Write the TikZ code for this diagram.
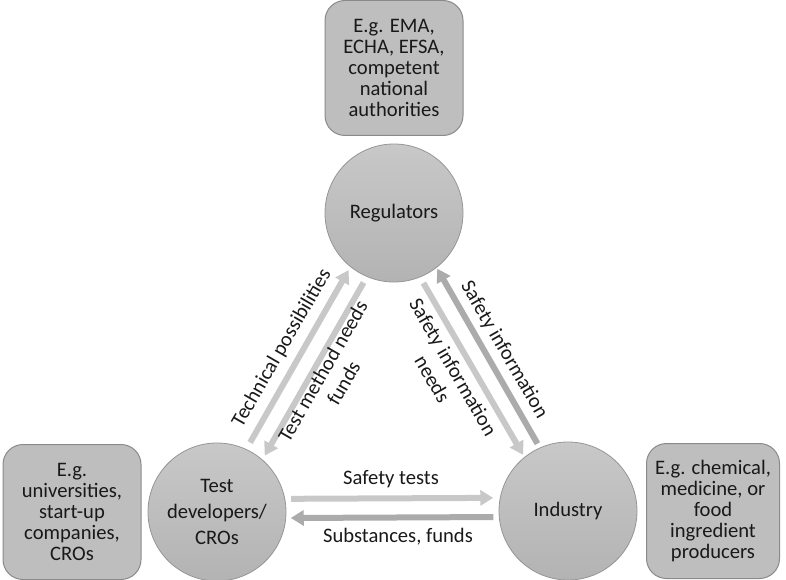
\documentclass[tikz,border=0pt]{standalone}
\usepackage{fontspec}
\setmainfont{Carlito}
\usepackage{tikz}
\usetikzlibrary{arrows.meta,positioning}
\definecolor{circtop}{HTML}{C8C8C8}
\definecolor{circbot}{HTML}{B3B3B3}
\definecolor{circline}{HTML}{959595}
\definecolor{boxgray}{HTML}{BEBEBE}
\definecolor{boxline}{HTML}{8A8A8A}
\definecolor{lite}{HTML}{C8C8C8}
\definecolor{dark}{HTML}{ABABAB}

\begin{document}
\begin{tikzpicture}[x=1pt,y=-1pt,node distance=145pt,
font=\fontsize{20.6}{21}\selectfont,text=black!90]
\tikzstyle{actor}=[circle,minimum size=138pt,inner sep=0pt,outer sep=0pt,
  top color=circtop,bottom color=circbot,draw=circline,line width=0.8pt,
  align=center,font=\fontsize{20.6}{26}\selectfont]
\tikzstyle{examples}=[rectangle,rounded corners=20pt,minimum width=138pt,
  minimum height=135pt,inner sep=0pt,fill=boxgray,draw=boxline,line width=1pt,
  align=center]
\tikzstyle{flow}=[-{Triangle[width=15pt,length=13pt]},line width=6pt]
\tikzstyle{flowlabel}=[align=center,inner sep=0pt,font=\fontsize{20.6}{24}\selectfont]

\useasboundingbox (0,0) rectangle (786,580);

\node[actor] (reg)  at (394,213) {Regulators};
\node[actor] (tdev) at (217,512) {Test\\developers/\\CROs};
\node[actor] (ind)  at (568,511) {Industry};

\node[examples] (regex)  [above of=reg]  {E.g. EMA,\\ECHA, EFSA,\\competent\\national\\authorities};
\node[examples] (tdevex) [left of=tdev]  {E.g.\\universities,\\start-up\\companies,\\CROs};
\node[examples, minimum width=133pt] (index) [right of=ind]
  {E.g. chemical,\\medicine, or\\food\\ingredient\\producers};

\path (tdev.65)   edge[flow, lite, shorten <=8pt, shorten >=4pt] (reg.231)
      (reg.247.5) edge[flow, lite, shorten <=7pt, shorten >=5pt] (tdev.49)
      (reg.292.5) edge[flow, lite, shorten <=7pt, shorten >=3pt] (ind.129)
      (ind.114)   edge[flow, dark, shorten <=5pt, shorten >=1.5pt] (reg.308.7)
      (tdev.11.5) edge[flow, lite, shorten <=6.5pt, shorten >=7pt] (ind.169.4)
      (ind.185.3) edge[flow, dark, shorten <=6pt, shorten >=5pt] (tdev.355.4);

\node[flowlabel, rotate=60]  (ltech)   at (282,348) {Technical possibilities};
\node[flowlabel, rotate=60]  (lneeds)  at (333,377) {Test method needs\\funds};
\node[flowlabel, rotate=-60] (lsafneed) at (443,373) {Safety information\\needs};
\node[flowlabel, rotate=-60] (lsafinfo) at (504,350) {Safety information};
\node[flowlabel] (ltests) at (391,479) {Safety tests};
\node[flowlabel] (lsubst) at (398,537) {Substances, funds};

\end{tikzpicture}
\end{document}
